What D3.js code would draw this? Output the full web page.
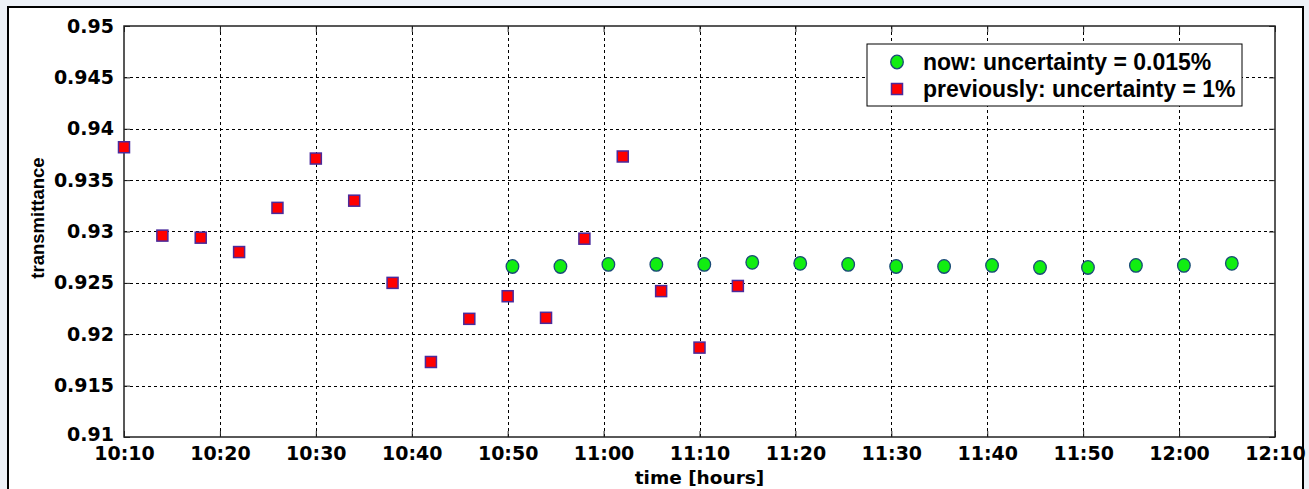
<!DOCTYPE html>
<html>
<head>
<meta charset="utf-8">
<script src="https://cdn.jsdelivr.net/npm/d3@7"></script>
<style>
  html, body { margin: 0; padding: 0; background: #edf1f7; }
  svg { display: block; }
</style>
</head>
<body>
<svg></svg>
<script>
const width = 1309;
const height = 489;

// previously measured points (every 4 minutes)
const prevTimes = ["10:10:00", "10:14:00", "10:18:00", "10:22:00", "10:26:00", "10:30:00",
  "10:34:00", "10:38:00", "10:42:00", "10:46:00", "10:50:00", "10:54:00", "10:58:00",
  "11:02:00", "11:06:00", "11:10:00", "11:14:00"];
const prevValues = [0.9382, 0.9296, 0.9294, 0.9280, 0.9323, 0.9371, 0.9330, 0.9250,
  0.9173, 0.9215, 0.9237, 0.9216, 0.9293, 0.9373, 0.9242, 0.9187, 0.9247];

// new measurement (every 5 minutes)
const nowTimes = ["10:50:30", "10:55:30", "11:00:30", "11:05:30", "11:10:30", "11:15:30",
  "11:20:30", "11:25:30", "11:30:30", "11:35:30", "11:40:30", "11:45:30", "11:50:30",
  "11:55:30", "12:00:30", "12:05:30"];
const nowValues = [0.9266, 0.9266, 0.9268, 0.9268, 0.9268, 0.9270, 0.9269, 0.9268,
  0.9266, 0.9266, 0.9267, 0.9265, 0.9265, 0.9267, 0.9267, 0.9269];

const xDomain = ["10:10:00", "12:10:00"];
const yDomain = [0.91, 0.95];
const yTicks = [0.91, 0.915, 0.92, 0.925, 0.93, 0.935, 0.94, 0.945, 0.95];
const legendLabels = ["now: uncertainty = 0.015%", "previously: uncertainty = 1%"];

const plot = { left: 124, right: 1275, top: 26, bottom: 437 };

const parseTime = d3.timeParse("%H:%M:%S");

const svg = d3.select("svg")
  .attr("width", width)
  .attr("height", height);

// outer figure frame
svg.append("rect")
  .attr("x", 8)
  .attr("y", 7)
  .attr("width", 1295)
  .attr("height", 500)
  .attr("fill", "white")
  .attr("stroke", "black")
  .attr("stroke-width", 2);

const x = d3.scaleTime()
  .domain(xDomain.map(parseTime))
  .range([plot.left, plot.right]);

const y = d3.scaleLinear()
  .domain(yDomain)
  .range([plot.bottom, plot.top]);

const xTicks = d3.timeMinute.every(10).range(x.domain()[0], d3.timeMinute.offset(x.domain()[1], 1));

// grid
const grid = svg.append("g")
  .attr("stroke", "black")
  .attr("stroke-width", 1)
  .attr("stroke-dasharray", "3,3");

grid.selectAll("line.vgrid")
  .data(xTicks.slice(1, -1))
  .join("line")
  .attr("class", "vgrid")
  .attr("x1", function(d) { return Math.round(x(d)) + 0.5; })
  .attr("x2", function(d) { return Math.round(x(d)) + 0.5; })
  .attr("y1", plot.top)
  .attr("y2", plot.bottom);

grid.selectAll("line.hgrid")
  .data(yTicks.slice(1, -1))
  .join("line")
  .attr("class", "hgrid")
  .attr("x1", plot.left)
  .attr("x2", plot.right)
  .attr("y1", function(d) { return Math.round(y(d)) + 0.5; })
  .attr("y2", function(d) { return Math.round(y(d)) + 0.5; });

// axes with inward ticks
const axisFont = "'DejaVu Sans', sans-serif";

const xAxis = svg.append("g")
  .attr("transform", `translate(0, ${plot.bottom})`)
  .call(d3.axisBottom(x)
    .tickValues(xTicks)
    .tickFormat(d3.timeFormat("%H:%M"))
    .tickSizeInner(-6)
    .tickSizeOuter(0)
    .tickPadding(10));

xAxis.selectAll("text")
  .attr("font-family", axisFont)
  .attr("font-weight", "bold")
  .attr("font-size", 19)
  .attr("fill", "black");

const yAxis = svg.append("g")
  .attr("transform", `translate(${plot.left}, 0)`)
  .call(d3.axisLeft(y)
    .tickValues(yTicks)
    .tickFormat(d3.format(""))
    .tickSizeInner(-6)
    .tickSizeOuter(0)
    .tickPadding(10));

yAxis.selectAll("text")
  .attr("font-family", axisFont)
  .attr("font-weight", "bold")
  .attr("font-size", 19)
  .attr("fill", "black");

// lowest y label sits slightly raised, as in the original
yAxis.selectAll(".tick")
  .filter(function(d) { return d === yDomain[0]; })
  .select("text")
  .attr("dy", "0.2em");

// right and top tick marks
svg.append("g")
  .attr("transform", `translate(${plot.right}, 0)`)
  .call(d3.axisRight(y).tickValues(yTicks).tickSizeInner(-6).tickSizeOuter(0).tickFormat(""));

svg.append("g")
  .attr("transform", `translate(0, ${plot.top})`)
  .call(d3.axisTop(x).tickValues(xTicks).tickSizeInner(-6).tickSizeOuter(0).tickFormat(""));

svg.selectAll(".domain").attr("stroke", "none");
svg.selectAll(".tick line").attr("stroke", "#222");

// plot box
svg.append("rect")
  .attr("x", plot.left)
  .attr("y", plot.top)
  .attr("width", plot.right - plot.left)
  .attr("height", plot.bottom - plot.top)
  .attr("fill", "none")
  .attr("stroke", "#222")
  .attr("stroke-width", 1.5);

// axis titles
svg.append("text")
  .attr("x", (plot.left + plot.right) / 2)
  .attr("y", 484)
  .attr("text-anchor", "middle")
  .attr("font-family", axisFont)
  .attr("font-weight", "bold")
  .attr("font-size", 18.5)
  .text("time [hours]");

svg.append("text")
  .attr("transform", "translate(44, 218) rotate(-90)")
  .attr("text-anchor", "middle")
  .attr("font-family", "'Liberation Sans', Arial, sans-serif")
  .attr("font-weight", "bold")
  .attr("font-size", 18.5)
  .text("transmittance");

// data
const prevData = prevTimes.map(function(t, i) { return { t: parseTime(t), v: prevValues[i] }; });
const nowData = nowTimes.map(function(t, i) { return { t: parseTime(t), v: nowValues[i] }; });

const sq = 11;

svg.append("g")
  .selectAll("rect")
  .data(prevData)
  .join("rect")
  .attr("x", function(d) { return x(d.t) - sq / 2; })
  .attr("y", function(d) { return y(d.v) - sq / 2; })
  .attr("width", sq)
  .attr("height", sq)
  .attr("fill", "#ff0000")
  .attr("stroke", "#4a2a9c")
  .attr("stroke-width", 1.5);

svg.append("g")
  .selectAll("ellipse")
  .data(nowData)
  .join("ellipse")
  .attr("cx", function(d) { return x(d.t); })
  .attr("cy", function(d) { return y(d.v); })
  .attr("rx", 6.3)
  .attr("ry", 6.8)
  .attr("fill", "#11ee11")
  .attr("stroke", "#1a4a78")
  .attr("stroke-width", 1.3);

// legend
const legend = svg.append("g")
  .attr("transform", "translate(867, 44)");

legend.append("rect")
  .attr("width", 375)
  .attr("height", 62)
  .attr("fill", "white")
  .attr("stroke", "black")
  .attr("stroke-width", 1);

legend.append("ellipse")
  .attr("cx", 30)
  .attr("cy", 18)
  .attr("rx", 6.3)
  .attr("ry", 6.8)
  .attr("fill", "#11ee11")
  .attr("stroke", "#1a4a78")
  .attr("stroke-width", 1.3);

legend.append("rect")
  .attr("x", 30 - sq / 2)
  .attr("y", 45 - sq / 2)
  .attr("width", sq)
  .attr("height", sq)
  .attr("fill", "#ff0000")
  .attr("stroke", "#4a2a9c")
  .attr("stroke-width", 1.5);

legend.selectAll("text")
  .data(legendLabels)
  .join("text")
  .attr("x", 56)
  .attr("y", function(d, i) { return 18 + i * 27; })
  .attr("dy", "0.35em")
  .attr("font-family", "'Liberation Sans', Arial, sans-serif")
  .attr("font-weight", "bold")
  .attr("font-size", 23)
  .text(function(d) { return d; });
</script>
</body>
</html>
